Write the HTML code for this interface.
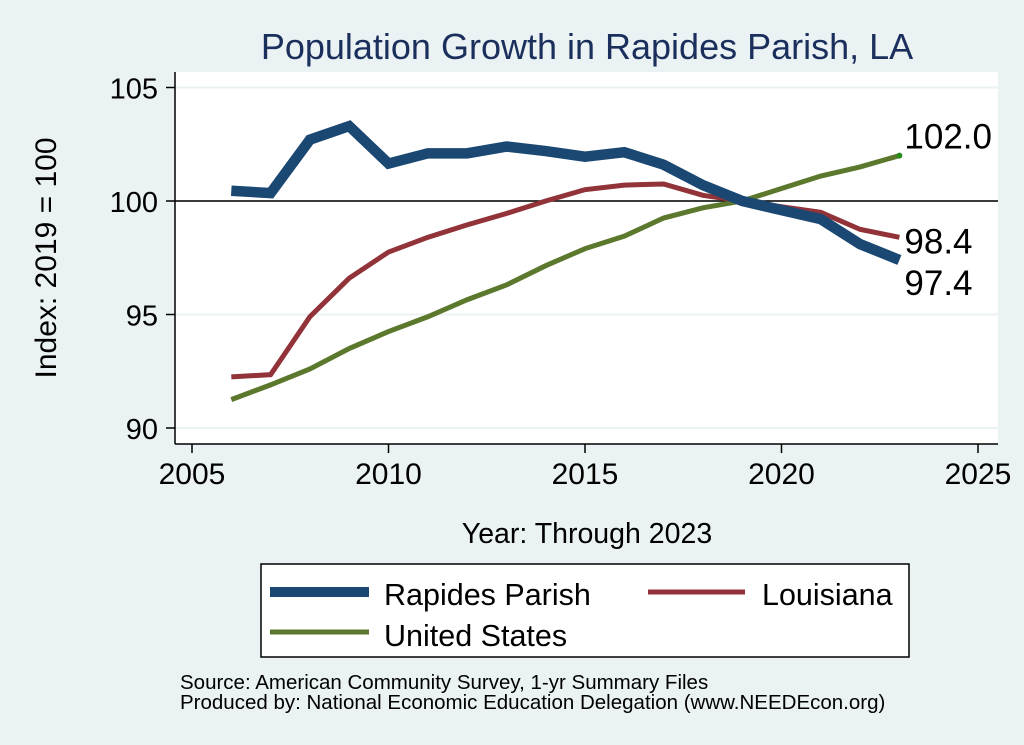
<!DOCTYPE html>
<html><head><meta charset="utf-8"><style>
body{margin:0;background:#eaf2f3;font-family:"Liberation Sans",sans-serif;}
svg{display:block}
</style></head><body>
<svg width="1024" height="745" id="c">
<rect x="0" y="0" width="1024" height="745" fill="#eaf2f3"/>
<text x="587" y="59" font-size="36" fill="#1a2f5c" text-anchor="middle">Population Growth in Rapides Parish, LA</text>
<rect x="175" y="72" width="823" height="372" fill="#fff"/>
<g id="grid"></g>
<g id="series"></g>
<line x1="175" y1="72" x2="175" y2="444" stroke="#000" stroke-width="1.5"/>
<line x1="175" y1="444" x2="998" y2="444" stroke="#000" stroke-width="1.5"/>
<g id="ticks" font-size="30" fill="#000"></g>
<text x="56" y="258" font-size="30" text-anchor="middle" transform="rotate(-90 56 258)">Index: 2019 = 100</text>
<text x="587" y="543" font-size="28.5" text-anchor="middle">Year: Through 2023</text>
<g>
<rect x="261" y="564" width="648" height="93" fill="#fff" stroke="#000" stroke-width="1.5"/>
<line x1="270" y1="592" x2="369" y2="592" stroke="#1b4872" stroke-width="10"/>
<text x="384" y="605" font-size="30.5">Rapides Parish</text>
<line x1="648" y1="592" x2="745" y2="592" stroke="#923339" stroke-width="5"/>
<text x="762" y="605" font-size="30.5">Louisiana</text>
<line x1="270" y1="632" x2="369" y2="632" stroke="#5b782d" stroke-width="5"/>
<text x="384" y="646" font-size="30.5">United States</text>
</g>
<text x="180" y="689" font-size="20.5">Source: American Community Survey, 1-yr Summary Files</text>
<text x="180" y="709" font-size="20.5">Produced by: National Economic Education Delegation (www.NEEDEcon.org)</text>
</svg>
<script>
const years=[2006,2007,2008,2009,2010,2011,2012,2013,2014,2015,2016,2017,2018,2019,2020,2021,2022,2023];
const rapides=[100.45,100.35,102.7,103.3,101.65,102.1,102.1,102.4,102.2,101.95,102.15,101.6,100.7,100,99.6,99.2,98.1,97.4];
const louisiana=[92.25,92.35,94.9,96.6,97.75,98.4,98.95,99.45,100.0,100.5,100.7,100.75,100.25,100,99.75,99.5,98.75,98.4];
const us=[91.25,91.9,92.6,93.5,94.25,94.9,95.65,96.3,97.15,97.9,98.45,99.25,99.7,100,100.55,101.1,101.5,102.0];
const xTicks=[2005,2010,2015,2020,2025];
const yTicks=[90,95,100,105];
const ns="http://www.w3.org/2000/svg";
const X=v=>192+(v-2005)*39.3;
const Y=v=>201-(v-100)*22.7;
function mk(t,a,p){const e=document.createElementNS(ns,t);for(const k in a)e.setAttribute(k,a[k]);p.appendChild(e);return e;}
const grid=document.getElementById('grid'),ticks=document.getElementById('ticks'),ser=document.getElementById('series');
yTicks.forEach(v=>{
 const g=mk('line',{x1:175,x2:998,y1:Y(v),y2:Y(v),stroke:'#eaf2f3','stroke-width':2},grid);
 
 
 const t=mk('line',{x1:166,x2:175,y1:Y(v),y2:Y(v),stroke:'#000','stroke-width':1.5},ticks);
 
 
 const l=mk('text',{x:158,y:Y(v)+11,'text-anchor':'end','font-size':29},ticks);l.textContent=v;
 
 
});
xTicks.forEach(v=>{
 const t=mk('line',{x1:X(v),x2:X(v),y1:444,y2:453,stroke:'#000','stroke-width':1.5},ticks);
 
 
 const l=mk('text',{x:X(v),y:484,'text-anchor':'middle'},ticks);l.textContent=v;
 
 
});
const ref=mk('line',{x1:175,x2:998,y1:Y(100),y2:Y(100),stroke:'#000','stroke-width':1.5},ser);


function line(vals,col,w,name){
 const p=mk('polyline',{points:vals.map((v,i)=>X(years[i])+','+Y(v)).join(' '),fill:'none',stroke:col,'stroke-width':w,'stroke-linejoin':'miter'},ser);
 
 
}
line(us,'#5b782d',5,'line-united-states');
line(louisiana,'#923339',5,'line-louisiana');
line(rapides,'#1b4872',10.5,'line-rapides');
const n=years.length-1;
const dot=mk('circle',{cx:X(years[n]),cy:Y(us[n]),r:3,fill:'#2a8a1a'},ser);


[[us[n],-7,'label-us-end'],[louisiana[n],16,'label-louisiana-end'],[rapides[n],35,'label-rapides-end']].forEach(([v,dy,nm])=>{
 const t=mk('text',{x:X(years[n])+5,y:Y(v)+dy,'font-size':35},ser);t.textContent=v.toFixed(1);
 
 
});
</script>
</body></html>
